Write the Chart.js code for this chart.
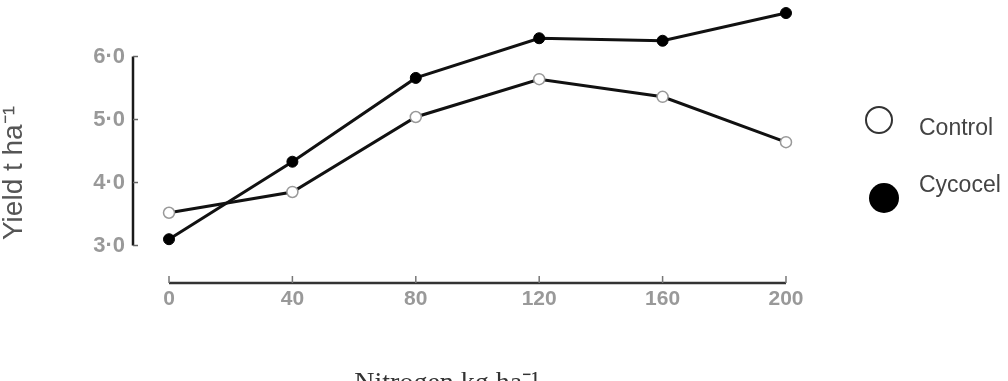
<!DOCTYPE html>
<html>
<head>
<meta charset="utf-8">
<script src="https://cdn.jsdelivr.net/npm/chart.js@4/dist/chart.umd.min.js"></script>
<style>
  html, body { margin: 0; padding: 0; background: #ffffff; }
  #wrap { width: 1008px; height: 381px; }
</style>
</head>
<body>
<div id="wrap"><canvas id="c" width="1008" height="381"></canvas></div>
<script>
const nitrogen = [0, 40, 80, 120, 160, 200];
const controlYield = [3.52, 3.85, 5.04, 5.64, 5.36, 4.64];
const cycocelYield = [3.10, 4.33, 5.66, 6.29, 6.25, 6.69];
const yTickValues = [3, 4, 5, 6];
const xTickValues = [0, 40, 80, 120, 160, 200];
const seriesNames = ['Control', 'Cycocel'];
const xTitle = 'Nitrogen kg ha\u207B\u00B9';
const yTitle = 'Yield t ha\u207B\u00B9';

const decorPlugin = {
  id: 'decor',
  afterDraw(chart) {
    const ctx = chart.ctx;
    const xs = chart.scales.x, ys = chart.scales.y;
    ctx.save();
    // y axis line
    const yx = 133;
    ctx.strokeStyle = '#1a1a1a';
    ctx.lineWidth = 2.5;
    ctx.beginPath();
    ctx.moveTo(yx, ys.getPixelForValue(yTickValues[0]));
    ctx.lineTo(yx, ys.getPixelForValue(yTickValues[yTickValues.length - 1]));
    ctx.stroke();
    ctx.lineWidth = 1.5;
    ctx.strokeStyle = '#666';
    yTickValues.forEach(v => {
      const py = ys.getPixelForValue(v);
      ctx.beginPath();
      ctx.moveTo(yx, py);
      ctx.lineTo(yx + 5, py);
      ctx.stroke();
    });
    // x axis line
    const xy = chart.chartArea.bottom;
    ctx.strokeStyle = '#333';
    ctx.lineWidth = 2.5;
    ctx.beginPath();
    ctx.moveTo(xs.getPixelForValue(xTickValues[0]), xy);
    ctx.lineTo(xs.getPixelForValue(xTickValues[xTickValues.length - 1]), xy);
    ctx.stroke();
    ctx.lineWidth = 1.5;
    ctx.strokeStyle = '#777';
    xTickValues.forEach(v => {
      const px = xs.getPixelForValue(v);
      ctx.beginPath();
      ctx.moveTo(px, xy);
      ctx.lineTo(px, xy - 7);
      ctx.stroke();
    });
    // titles
    ctx.fillStyle = '#333';
    ctx.font = '28px "Liberation Serif"';
    ctx.textAlign = 'center';
    ctx.textBaseline = 'alphabetic';
    ctx.fillText(xTitle, 447, 391);
    ctx.save();
    ctx.translate(14, 173);
    ctx.rotate(-Math.PI / 2);
    ctx.fillStyle = '#555';
    ctx.font = '28px "Liberation Sans"';
    ctx.textBaseline = 'middle';
    ctx.fillText(yTitle, 0, 0);
    ctx.restore();
    // legend
    ctx.beginPath();
    ctx.arc(879, 120, 13, 0, Math.PI * 2);
    ctx.fillStyle = '#fff';
    ctx.fill();
    ctx.lineWidth = 2;
    ctx.strokeStyle = '#333';
    ctx.stroke();
    ctx.beginPath();
    ctx.arc(884, 198, 15, 0, Math.PI * 2);
    ctx.fillStyle = '#000';
    ctx.fill();
    ctx.fillStyle = '#444';
    ctx.font = '23px "Liberation Sans"';
    ctx.textAlign = 'left';
    ctx.textBaseline = 'middle';
    ctx.fillText(seriesNames[0], 919, 129);
    ctx.fillText(seriesNames[1], 919, 186);
    ctx.restore();
  }
};

const toPts = (xv, yv) => xv.map((x, i) => ({ x: x, y: yv[i] }));

new Chart(document.getElementById('c'), {
  type: 'line',
  data: {
    datasets: [
      {
        label: seriesNames[0],
        data: toPts(nitrogen, controlYield),
        borderColor: '#111',
        borderWidth: 3,
        pointRadius: 5.5,
        pointBackgroundColor: '#fff',
        pointBorderColor: '#999',
        pointBorderWidth: 1.5,
        tension: 0,
        clip: false
      },
      {
        label: seriesNames[1],
        data: toPts(nitrogen, cycocelYield),
        borderColor: '#111',
        borderWidth: 3,
        pointRadius: 5.5,
        pointBackgroundColor: '#000',
        pointBorderColor: '#000',
        pointBorderWidth: 1,
        tension: 0,
        clip: false
      }
    ]
  },
  options: {
    responsive: false,
    devicePixelRatio: 1,
    animation: false,
    layout: { autoPadding: false, padding: { top: 0, right: 208, bottom: 0, left: 0 } },
    plugins: { legend: { display: false }, tooltip: { enabled: false } },
    scales: {
      x: {
        type: 'linear',
        min: -11.67,
        max: 204.54,
        grid: { display: false, drawTicks: false },
        border: { display: false },
        afterBuildTicks(s) { s.ticks = xTickValues.map(v => ({ value: v })); },
        afterFit(s) { s.height = 98; s.paddingLeft = 0; s.paddingRight = 0; },
        ticks: {
          padding: 4,
          color: '#999',
          font: { family: '"Liberation Sans"', size: 21, weight: 'bold' },
          maxRotation: 0,
          autoSkip: false,
          callback: v => String(v)
        }
      },
      y: {
        type: 'linear',
        min: 2.405,
        max: 6.897,
        grid: { display: false, drawTicks: false },
        border: { display: false },
        afterBuildTicks(s) { s.ticks = yTickValues.map(v => ({ value: v })); },
        afterFit(s) { s.width = 133; s.paddingTop = 0; s.paddingBottom = 0; },
        ticks: {
          padding: 8,
          color: '#999',
          font: { family: '"Liberation Sans"', size: 22, weight: 'bold' },
          autoSkip: false,
          callback: v => v.toFixed(1).replace('.', '\u00B7')
        }
      }
    }
  },
  plugins: [decorPlugin]
});
</script>
</body>
</html>
